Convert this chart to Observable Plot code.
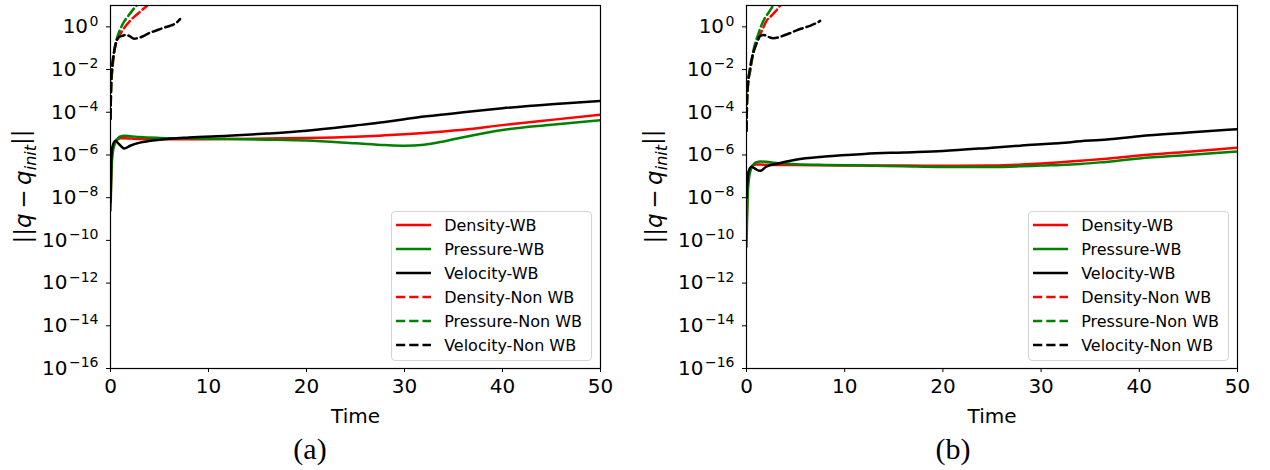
<!DOCTYPE html>
<html>
<head>
<meta charset="utf-8">
<script src="https://cdn.jsdelivr.net/npm/d3@7"></script>
<script src="https://cdn.jsdelivr.net/npm/@observablehq/plot@0.6"></script>
<style>
  body { margin: 0; background: #fff; font-family: "DejaVu Sans", sans-serif; }
  #fig { display: flex; width: 1270px; height: 470px; overflow: hidden; }
  .panel { position: relative; width: 635px; height: 470px; }
  .panel > svg { position: absolute; left: 0; top: 0; }
  .cap { position: absolute; top: 434px; width: 80px; text-align: center; line-height: 1;
         font-family: "Liberation Serif", "DejaVu Serif", serif; font-size: 30px; color: #000; }
  .legend { position: absolute; top: 211px; border: 1px solid #d4d4d4; border-radius: 4px;
            background: rgba(255,255,255,0.85); padding: 1px 9px 3px 4px; font-size: 16px; color: #000;
            font-family: "DejaVu Sans", sans-serif; }
  .legend .row { display: flex; align-items: center; height: 24px; white-space: nowrap; }
  .legend svg { margin-right: 13px; flex: none; }
</style>
</head>
<body>
<div id="fig"></div>
<script>
// ---------- data ----------
const seriesNames = ["Density-WB", "Pressure-WB", "Velocity-WB", "Density-Non WB", "Pressure-Non WB", "Velocity-Non WB"];
const seriesColors = ["red", "green", "black", "red", "green", "black"];
const seriesDashed = [false, false, false, true, true, true];
const panelCaptions = ["(a)", "(b)"];
const xTicks = [0, 10, 20, 30, 40, 50];
const yTicks = [1e-16, 1e-14, 1e-12, 1e-10, 1e-8, 1e-6, 1e-4, 1e-2, 1];

// well-balanced runs: shared time grid
const tWB = [0, 0.1, 0.2, 0.5, 0.8, 1.0, 1.4, 2, 3, 5, 8, 12, 16, 20, 25, 28, 30, 32, 34, 36, 40, 45, 50];

// panel (a)
const densityWB_a  = [5.0e-9, 3.2e-7, 1.6e-6, 4.5e-6, 5.6e-6, 6.0e-6, 6.0e-6, 5.9e-6, 5.6e-6, 5.5e-6, 5.5e-6, 5.6e-6, 5.9e-6, 6.2e-6, 7.1e-6, 8.3e-6, 9.3e-6, 1.07e-5, 1.26e-5, 1.5e-5, 2.5e-5, 4.4e-5, 7.6e-5];
const pressureWB_a = [2.5e-9, 1.6e-7, 1e-6, 4.0e-6, 6.3e-6, 7.4e-6, 7.9e-6, 7.6e-6, 6.9e-6, 6.3e-6, 6.0e-6, 5.6e-6, 5.2e-6, 4.7e-6, 3.5e-6, 2.9e-6, 2.7e-6, 3.0e-6, 4.3e-6, 6.8e-6, 1.48e-5, 2.6e-5, 4.3e-5];
const velocityWB_a = [6.3e-9, 1e-6, 2.5e-6, 4.6e-6, 3.5e-6, 2.8e-6, 2.0e-6, 2.7e-6, 3.8e-6, 5.2e-6, 6.6e-6, 7.9e-6, 1e-5, 1.35e-5, 2.4e-5, 3.5e-5, 4.7e-5, 6.3e-5, 7.9e-5, 1e-4, 1.55e-4, 2.4e-4, 3.4e-4];

const tDensityNonWB_a  = [0, 0.05, 0.1, 0.17, 0.3, 0.5, 0.75, 1.0, 1.4, 2.0, 2.5, 3.0, 3.7, 4.2];
const densityNonWB_a   = [5.0e-5, 1e-3, 4.0e-3, 8.7e-3, 0.035, 0.126, 0.28, 0.46, 0.89, 1.9, 3.2, 5.0, 9.5, 14.1];
const tPressureNonWB_a = [0, 0.05, 0.1, 0.17, 0.3, 0.5, 0.75, 1.0, 1.4, 1.7, 2.2, 2.7, 3.0];
const pressureNonWB_a  = [5.0e-5, 1e-3, 4.0e-3, 8.7e-3, 0.04, 0.155, 0.4, 0.78, 1.8, 2.75, 5.6, 10.7, 15.8];
const tVelocityNonWB_a = [0, 0.05, 0.1, 0.2, 0.35, 0.5, 0.8, 1.2, 1.6, 2.0, 2.4, 3.0, 3.5, 4.0, 4.8, 5.5, 6.2, 6.7, 7.1];
const velocityNonWB_a  = [5.0e-5, 1e-3, 5.0e-3, 0.02, 0.063, 0.14, 0.316, 0.38, 0.42, 0.355, 0.28, 0.316, 0.4, 0.525, 0.71, 0.93, 1.17, 1.51, 2.3];

// panel (b)
const densityWB_b  = [3.2e-10, 1.6e-8, 1e-7, 2.8e-7, 3.5e-7, 3.55e-7, 3.55e-7, 3.5e-7, 3.4e-7, 3.4e-7, 3.3e-7, 3.2e-7, 3.2e-7, 3.1e-7, 3.2e-7, 3.55e-7, 4.0e-7, 4.6e-7, 5.4e-7, 6.3e-7, 9.5e-7, 1.41e-6, 2.2e-6];
const pressureWB_b = [5.0e-11, 6.3e-9, 5.0e-8, 2.5e-7, 4.0e-7, 4.5e-7, 4.9e-7, 4.8e-7, 4.2e-7, 3.7e-7, 3.4e-7, 3.2e-7, 2.95e-7, 2.75e-7, 2.75e-7, 2.95e-7, 3.2e-7, 3.4e-7, 3.8e-7, 4.5e-7, 6.9e-7, 1e-6, 1.45e-6];
const velocityWB_b = [1e-8, 6.3e-8, 1.6e-7, 2.8e-7, 2.4e-7, 2.1e-7, 1.8e-7, 2.8e-7, 3.8e-7, 6.0e-7, 8.5e-7, 1.12e-6, 1.32e-6, 1.55e-6, 2.2e-6, 2.75e-6, 3.2e-6, 3.6e-6, 4.4e-6, 5.0e-6, 7.6e-6, 1.12e-5, 1.62e-5];

const tDensityNonWB_b  = [0, 0.05, 0.15, 0.37, 0.7, 1.2, 1.6, 2.04, 2.6, 3.0, 3.4, 3.8];
const densityNonWB_b   = [1.35e-5, 3.2e-4, 2.0e-3, 8.7e-3, 0.063, 0.28, 0.71, 1.9, 3.55, 5.6, 9.5, 14.1];
const tPressureNonWB_b = [0, 0.05, 0.15, 0.37, 0.7, 1.2, 1.5, 1.9, 2.3, 2.7, 3.0];
const pressureNonWB_b  = [1.35e-5, 3.2e-4, 2.0e-3, 8.7e-3, 0.076, 0.46, 1.12, 2.75, 5.0, 9.5, 14.1];
const tVelocityNonWB_b = [0, 0.05, 0.15, 0.37, 0.7, 1.0, 1.36, 1.7, 2.04, 2.4, 2.7, 3.2, 3.7, 4.4, 5.1, 5.8, 6.46, 7.0, 7.5];
const velocityNonWB_b  = [1.35e-5, 3.2e-4, 2.0e-3, 0.0126, 0.063, 0.155, 0.355, 0.42, 0.38, 0.316, 0.295, 0.316, 0.38, 0.5, 0.69, 0.89, 1.12, 1.41, 1.9];

const panels = [
  [[tWB, densityWB_a], [tWB, pressureWB_a], [tWB, velocityWB_a],
   [tDensityNonWB_a, densityNonWB_a], [tPressureNonWB_a, pressureNonWB_a], [tVelocityNonWB_a, velocityNonWB_a]],
  [[tWB, densityWB_b], [tWB, pressureWB_b], [tWB, velocityWB_b],
   [tDensityNonWB_b, densityNonWB_b], [tPressureNonWB_b, pressureNonWB_b], [tVelocityNonWB_b, velocityNonWB_b]]
];

// ---------- drawing ----------
const DASH = "9.25,4";
const fig = document.getElementById("fig");

panels.forEach((series, pi) => {
  const mL = pi === 0 ? 110 : 111, mR = pi === 0 ? 35 : 33;
  const div = document.createElement("div");
  div.className = "panel";
  fig.appendChild(div);

  const lineMarks = series.map(([ts, vs], si) =>
    Plot.line(ts.map((t, i) => ({t, v: vs[i]})), {
      x: "t", y: "v", stroke: seriesColors[si], strokeWidth: 2.5,
      strokeDasharray: seriesDashed[si] ? DASH : null, curve: "monotone-x", clip: true
    })
  );

  const svg = Plot.plot({
    width: 635, height: 432,
    marginLeft: mL, marginRight: mR, marginTop: 5, marginBottom: 64,
    style: {fontFamily: "'DejaVu Sans', sans-serif", fontSize: "20px", color: "black", background: "transparent"},
    x: {domain: [0, 50]},
    y: {type: "log", domain: [1e-16, 10]},
    marks: [
      ...lineMarks,
      Plot.frame({stroke: "black", strokeWidth: 1.2}),
      Plot.axisX({ticks: xTicks, tickSize: 4, tickPadding: 6, tickFormat: d => String(d),
                  label: "Time", labelAnchor: "center", labelArrow: "none", labelOffset: 54}),
      Plot.axisY({ticks: yTicks, tickSize: 4, tickPadding: 8,
                  tickFormat: d => "10^" + Math.round(Math.log10(d)), label: null})
    ]
  });
  div.appendChild(svg);

  // superscript exponents on y tick labels
  d3.select(svg).selectAll('g[aria-label="y-axis tick label"] text').each(function () {
    const s = this.textContent;
    const exp = s.split("^")[1].replace("-", "\u2212");
    const t = d3.select(this);
    t.text("");
    t.append("tspan").text("10");
    t.append("tspan").attr("dx", "1.5").attr("dy", "-0.55em").attr("font-size", "14px").text(exp);
  });

  // y-axis label ||q − q_init||
  const yl = d3.select(svg).append("text")
    .attr("transform", `translate(${pi === 0 ? 31 : 27},${(5 + 368) / 2}) rotate(-90)`)
    .attr("text-anchor", "middle").attr("font-size", "23px").attr("font-family", "'DejaVu Sans', sans-serif");
  yl.append("tspan").text("||");
  yl.append("tspan").attr("font-style", "italic").text("q");
  yl.append("tspan").text("\u2009\u2212\u2009");
  yl.append("tspan").attr("font-style", "italic").text("q");
  yl.append("tspan").attr("font-style", "italic").attr("font-size", "16px").attr("dy", "0.3em").text("init");
  yl.append("tspan").attr("dy", "-0.3em").text("||");

  // legend
  const lg = document.createElement("div");
  lg.className = "legend";
  lg.style.right = (mR + 8) + "px";
  seriesNames.forEach((name, si) => {
    const row = document.createElement("div");
    row.className = "row";
    row.innerHTML = `<svg width="35" height="10"><line x1="0" x2="35" y1="5" y2="5" stroke="${seriesColors[si]}" stroke-width="2.5" ${seriesDashed[si] ? `stroke-dasharray="${DASH}"` : ""}/></svg><span>${name}</span>`;
    lg.appendChild(row);
  });
  div.appendChild(lg);

  // caption
  const cap = document.createElement("div");
  cap.className = "cap";
  cap.style.left = (pi === 0 ? 310 : 318) - 40 + "px";
  cap.textContent = panelCaptions[pi];
  div.appendChild(cap);
});
</script>
</body>
</html>
